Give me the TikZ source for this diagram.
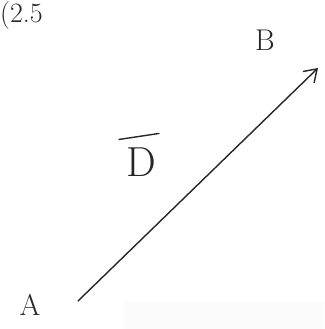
\documentclass[tikz,border=0pt]{standalone}
\usetikzlibrary{arrows.meta}
\begin{document}
\begin{tikzpicture}[x=1pt, y=-1pt, line cap=round,
		hand/.style={font=\fontsize{30}{32}\selectfont, inner sep=0pt, text=black!85},
		vec/.style={draw=black!85, line width=1.4pt, -{Straight Barb[length=12pt, width=16pt]}}]
	\useasboundingbox (0,0) rectangle (324,329);
	\fill[gray!3] (125,302) rectangle (324,329);
	\node[hand, anchor=north west, font=\fontsize{28}{30}\selectfont] (lbl) at (0,1) {(2.5};
	\coordinate (a) at (78,301);
	\coordinate (b) at (318,68);
	\node[hand] (na) at (30,305) {A};
	\node[hand] (nb) at (265,40) {B};
	\draw[vec] (a) -- (b);
	\node[hand, font=\fontsize{42}{44}\selectfont] (d) at (141,162) {D};
	\draw[black!85, line width=1.4pt] ([xshift=-22pt, yshift=8pt]d.north) -- ([xshift=18pt, yshift=14pt]d.north);
\end{tikzpicture}
\end{document}
